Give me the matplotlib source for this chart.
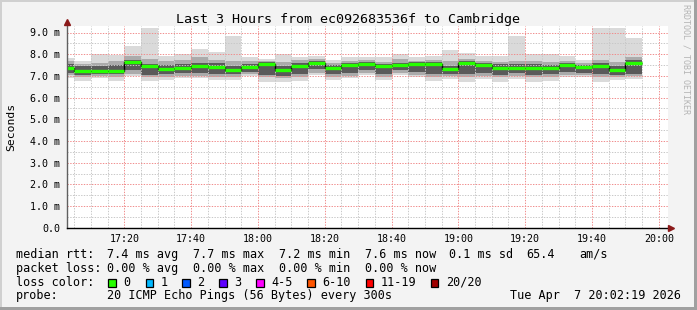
import matplotlib
matplotlib.use("Agg")
import matplotlib.pyplot as plt
from matplotlib.patches import Rectangle
from matplotlib.lines import Line2D

# 5 minute steps, minutes after 17:00 (bar start)
bar_start = [0, 5, 10, 15, 20, 25, 30, 35, 40, 45, 50, 55, 60, 65, 70, 75, 80, 85,
             90, 95, 100, 105, 110, 115, 120, 125, 130, 135, 140, 145, 150, 155, 160, 165, 170]

# values in ms
median = [7.38, 7.24, 7.24, 7.24, 7.66, 7.47, 7.33, 7.38, 7.47, 7.42, 7.29, 7.42, 7.56, 7.29,
          7.47, 7.61, 7.38, 7.52, 7.56, 7.47, 7.52, 7.56, 7.56, 7.33, 7.61, 7.52, 7.38, 7.38,
          7.38, 7.38, 7.52, 7.42, 7.47, 7.29, 7.61]
smoke_hi = [7.84, 7.70, 8.01, 7.96, 8.39, 9.21, 7.93, 8.00, 8.24, 8.12, 8.85, 7.85, 7.78, 8.01,
            7.88, 7.93, 7.73, 7.85, 7.88, 7.85, 8.00, 7.85, 7.93, 8.19, 8.04, 7.93, 7.93, 8.85,
            8.00, 8.00, 7.93, 7.73, 9.19, 9.19, 8.73]
smoke_lo = [6.89, 6.78, 6.89, 6.78, 7.01, 6.78, 6.80, 6.89, 6.89, 6.80, 6.80, 7.00, 6.73, 6.73,
            6.78, 7.04, 6.80, 6.89, 7.04, 6.80, 7.04, 6.93, 6.78, 6.85, 6.73, 6.85, 6.73, 6.85,
            6.73, 6.78, 6.93, 6.93, 6.73, 6.80, 6.85]
mid_hi = [7.70, 7.55, 7.60, 7.70, 7.90, 7.80, 7.70, 7.75, 7.85, 7.75, 7.70, 7.70, 7.70, 7.65,
          7.75, 7.80, 7.60, 7.70, 7.75, 7.65, 7.80, 7.70, 7.75, 7.70, 7.80, 7.70, 7.65, 7.70,
          7.70, 7.65, 7.70, 7.60, 7.75, 7.65, 7.85]
mid_lo = [7.05, 6.95, 7.00, 6.95, 7.10, 6.95, 6.95, 7.00, 7.00, 6.95, 6.95, 7.10, 6.95, 6.90,
          6.95, 7.15, 6.95, 7.00, 7.15, 6.95, 7.15, 7.05, 6.95, 7.00, 6.95, 7.00, 6.95, 7.00,
          6.95, 6.95, 7.05, 7.05, 6.95, 6.95, 7.00]
core_hi = [7.55, 7.45, 7.45, 7.50, 7.75, 7.55, 7.50, 7.55, 7.60, 7.60, 7.45, 7.55, 7.65, 7.45,
           7.60, 7.70, 7.50, 7.60, 7.65, 7.55, 7.60, 7.65, 7.65, 7.45, 7.70, 7.60, 7.55, 7.55,
           7.55, 7.50, 7.60, 7.50, 7.60, 7.45, 7.75]
core_lo = [7.15, 7.05, 7.10, 7.10, 7.25, 7.05, 7.10, 7.15, 7.15, 7.10, 7.10, 7.20, 7.05, 7.00,
           7.10, 7.30, 7.10, 7.15, 7.25, 7.10, 7.25, 7.20, 7.10, 7.10, 7.10, 7.15, 7.05, 7.15,
           7.05, 7.10, 7.20, 7.15, 7.10, 7.05, 7.10]

x_ticks = [20, 40, 60, 80, 100, 120, 140, 160, 180]
x_labels = ["17:20", "17:40", "18:00", "18:20", "18:40", "19:00", "19:20", "19:40", "20:00"]
y_ticks = [0, 1, 2, 3, 4, 5, 6, 7, 8, 9]
y_labels = ["0.0", "1.0 m", "2.0 m", "3.0 m", "4.0 m", "5.0 m", "6.0 m", "7.0 m", "8.0 m", "9.0 m"]

loss_labels = ["0", "1", "2", "3", "4-5", "6-10", "11-19", "20/20"]
loss_colors = ["#26ff00", "#00b8ff", "#0059ff", "#5e00ff", "#ff00ff", "#ff5500", "#ff0000", "#a10000"]

W, H = 697, 310
MONO = "DejaVu Sans Mono"


def fx(x):
    return x / W


def fy(y):
    return 1 - y / H


fig = plt.figure(figsize=(W / 100, H / 100), dpi=100)
fig.patch.set_facecolor("#f3f3f3")

# plot canvas
left, right, top, bottom = 66.7, 668.0, 26.0, 227.8
ax = fig.add_axes([fx(left), fy(bottom), (right - left) / W, (bottom - top) / H])
ax.set_facecolor("white")
ax.set_xlim(2.75, 182.75)
ax.set_ylim(0, (bottom - top) / 21.7)

# smoke layers
ax.bar(bar_start, [h - l for h, l in zip(smoke_hi, smoke_lo)], width=5, bottom=smoke_lo,
       align="edge", color="#dadada", linewidth=0, zorder=1)
ax.bar(bar_start, [h - l for h, l in zip(mid_hi, mid_lo)], width=5, bottom=mid_lo,
       align="edge", color="#ababab", linewidth=0, zorder=1.1)
ax.bar(bar_start, [h - l for h, l in zip(core_hi, core_lo)], width=5, bottom=core_lo,
       align="edge", color="#5a5a5a", linewidth=0, zorder=1.2)

# grid on top of smoke
for t in range(5, 185, 5):
    if t % 20 == 0:
        continue
    ax.axvline(t, color="#c8c8c8", lw=0.7, ls=(0, (1.4, 1.4)), zorder=2)
for v in [0.5 * k for k in range(1, 19)]:
    if v == int(v):
        continue
    ax.axhline(v, color="#c8c8c8", lw=0.7, ls=(0, (1.4, 1.4)), zorder=2)
for t in x_ticks:
    ax.axvline(t, color="#f08c8c", lw=0.7, ls=(0, (1.4, 1.4)), zorder=2.1)
for v in y_ticks[1:]:
    ax.axhline(v, color="#f08c8c", lw=0.7, ls=(0, (1.4, 1.4)), zorder=2.1)

# median line
edges = bar_start + [bar_start[-1] + 5]
ax.stairs(median, edges, color="black", lw=1.0, zorder=3, baseline=None)
ax.hlines(median, bar_start, [b + 5 for b in bar_start], color=loss_colors[0], lw=2.4, zorder=4)

for s in ax.spines.values():
    s.set_visible(False)
ax.set_xticks(x_ticks)
ax.set_xticklabels(x_labels, family=MONO, fontsize=7.2)
ax.set_yticks(y_ticks)
ax.set_yticklabels(y_labels, family=MONO, fontsize=7.2)
ax.tick_params(length=0, pad=4.5)

# axis lines with arrows
fig.add_artist(Line2D([fx(left), fx(left)], [fy(bottom), fy(22)], color="#606060", lw=1))
fig.add_artist(Line2D([fx(left), fx(671)], [fy(bottom), fy(bottom)], color="black", lw=1))
fig.add_artist(Line2D([fx(left)], [fy(22)], marker="^", color="#8b1a1a", markersize=4.5))
fig.add_artist(Line2D([fx(671)], [fy(bottom)], marker=">", color="#8b1a1a", markersize=4.5))

# frame
fig.add_artist(Rectangle((0, 0), fx(2), 1, color="#d0d0d0", lw=0))
fig.add_artist(Rectangle((0, fy(2)), 1, fx(2) * W / H, color="#d0d0d0", lw=0))
fig.add_artist(Rectangle((fx(W - 3), 0), fx(3), 1, color="#a0a0a0", lw=0))
fig.add_artist(Rectangle((0, 0), 1, 3 / H, color="#a0a0a0", lw=0))

# titles
fig.text(fx(348), fy(19), "Last 3 Hours from ec092683536f to Cambridge",
         ha="center", va="center", family=MONO, fontsize=9.6)
fig.text(fx(11), fy(127), "Seconds", rotation=90, ha="center", va="center",
         family=MONO, fontsize=8.2)
fig.text(fx(686), fy(4), "RRDTOOL / TOBI OETIKER", rotation=270, ha="center", va="top",
         family=MONO, fontsize=6.0, color="#b4b4b4")

# legend block
FS = 8.5
row1 = [(16, "median rtt:"), (107.3, "7.4 ms avg"), (193.3, "7.7 ms max"),
        (279.3, "7.2 ms min"), (365, "7.6 ms now"), (449, "0.1 ms sd"),
        (526, "65.4"), (579.3, "am/s")]
row2 = [(16, "packet loss:"), (107.3, "0.00 % avg"), (193.3, "0.00 % max"),
        (279.3, "0.00 % min"), (365, "0.00 % now")]
for x, s in row1:
    fig.text(fx(x), fy(254.3), s, ha="left", va="center", family=MONO, fontsize=FS)
for x, s in row2:
    fig.text(fx(x), fy(268.3), s, ha="left", va="center", family=MONO, fontsize=FS)

fig.text(fx(16), fy(282.3), "loss color:", ha="left", va="center", family=MONO, fontsize=FS)
box_x = [108.3, 145.7, 182.3, 219.0, 256.0, 307.0, 365.7, 430.7]
for bx, lab, col in zip(box_x, loss_labels, loss_colors):
    fig.add_artist(Rectangle((fx(bx), fy(286.5)), 7.5 / W, 8 / H, facecolor=col,
                             edgecolor="black", lw=0.9))
    fig.text(fx(bx + 15), fy(282.3), lab, ha="left", va="center", family=MONO, fontsize=FS)

fig.text(fx(16), fy(296), "probe:", ha="left", va="center", family=MONO, fontsize=FS)
fig.text(fx(107.3), fy(296), "20 ICMP Echo Pings (56 Bytes) every 300s",
         ha="left", va="center", family=MONO, fontsize=FS)
fig.text(fx(681), fy(296), "Tue Apr  7 20:02:19 2026", ha="right", va="center",
         family=MONO, fontsize=FS)

fig.savefig("out.png", dpi=100, facecolor=fig.get_facecolor())
